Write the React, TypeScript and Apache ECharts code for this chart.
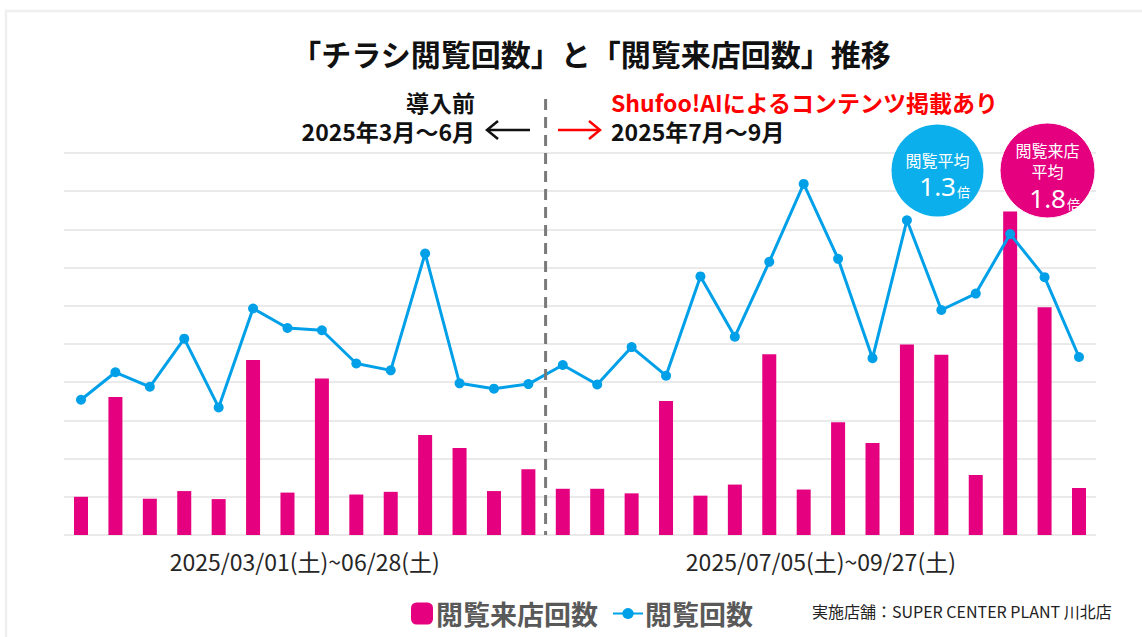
import React, { useEffect, useRef } from "react";
import * as echarts from "echarts";

// 30 periods: 14 before introduction, 16 after
const categories = [
  "P01", "P02", "P03", "P04", "P05", "P06", "P07", "P08", "P09", "P10",
  "P11", "P12", "P13", "P14", "P15", "P16", "P17", "P18", "P19", "P20",
  "P21", "P22", "P23", "P24", "P25", "P26", "P27", "P28", "P29", "P30",
];
// 閲覧来店回数 (bars)
const storeVisits = [
  10.0, 36.1, 9.5, 11.5, 9.4, 45.8, 11.1, 41.0, 10.6, 11.3, 26.2, 22.8, 11.5, 17.2,
  12.1, 12.1, 10.9, 35.1, 10.3, 13.2, 47.3, 11.9, 29.5, 24.1, 49.9, 47.2, 15.7, 84.7, 59.6, 12.3,
];
// 閲覧回数 (line)
const flyerViews = [
  35.4, 42.6, 38.8, 51.4, 33.4, 59.3, 54.2, 53.6, 44.9, 43.1, 73.7, 39.7, 38.3, 39.5,
  44.5, 39.4, 49.2, 41.7, 67.7, 51.9, 71.5, 91.9, 72.3, 46.3, 82.4, 58.9, 63.2, 78.8, 67.5, 46.6,
];
const yMin = 0;
const yMax = 100;
const yInterval = 10;
const beforeCount = 14;
const periodLabels = ["2025/03/01(土)~06/28(土)", "2025/07/05(土)~09/27(土)"];
const seriesNames = ["閲覧来店回数", "閲覧回数"];
const viewRatio = "1.3";
const visitRatio = "1.8";

const FONT = '"Noto Sans CJK JP", "Noto Sans", sans-serif';
const NUM_FONT = '"Noto Sans", "Noto Sans CJK JP", sans-serif';
const MAGENTA = "#E4007F";
const BLUE = "#00A0E9";
const BUBBLE_BLUE = "#0AAFEB";

function txt(x: number, y: number, text: string, font: string, fill: string, align: string, z = 5, lineHeight?: number) {
  return {
    type: "text",
    x,
    y,
    z,
    style: { text, font, fill, textAlign: align, textVerticalAlign: "middle", lineHeight },
  };
}

export default function App() {
  const ref = useRef<HTMLDivElement>(null);
  useEffect(() => {
    const chart = echarts.init(ref.current!, null, { renderer: "svg" });
    chart.setOption({
      animation: false,
      backgroundColor: "#ffffff",
      textStyle: { fontFamily: FONT },
      grid: { left: 63.8, right: 45.8, top: 153, bottom: 102 },
      xAxis: {
        type: "category",
        data: categories,
        axisLine: { show: false },
        axisTick: { show: false },
        axisLabel: { show: false },
      },
      yAxis: {
        type: "value",
        min: yMin,
        max: yMax,
        interval: yInterval,
        axisLabel: { show: false },
        axisLine: { show: false },
        axisTick: { show: false },
        splitLine: { lineStyle: { color: "#e3e3e3", width: 1.6 } },
      },
      legend: [
        {
          data: [seriesNames[0]],
          left: 406,
          top: 595,
          itemWidth: 22,
          itemHeight: 22,
          textStyle: { fontFamily: FONT, fontSize: 27, fontWeight: "bold", color: "#595959", padding: [0, 0, 0, -2] },
        },
        {
          data: [seriesNames[1]],
          left: 607,
          top: 595,
          itemWidth: 30,
          itemHeight: 14,
          textStyle: { fontFamily: FONT, fontSize: 27, fontWeight: "bold", color: "#595959", padding: [0, 0, 0, -3] },
        },
      ],
      series: [
        {
          name: seriesNames[0],
          type: "bar",
          data: storeVisits,
          barWidth: 14,
          itemStyle: { color: MAGENTA },
          z: 2,
        },
        {
          name: seriesNames[1],
          type: "line",
          data: flyerViews,
          symbol: "circle",
          symbolSize: 10,
          itemStyle: { color: BLUE },
          lineStyle: { color: BLUE, width: 3 },
          z: 3,
        },
      ],
    });

    const px = (i: number) => chart.convertToPixel({ xAxisIndex: 0 }, i) as number;
    const yBottom = chart.convertToPixel({ yAxisIndex: 0 }, yMin) as number;
    const sepX = (px(beforeCount - 1) + px(beforeCount)) / 2;
    const leftMid = (px(0) + px(beforeCount - 1)) / 2;
    const rightMid = (px(beforeCount) + px(categories.length - 1)) / 2;

    const annFont = `bold 23px ${FONT}`;

    chart.setOption({
      graphic: [
        {
          type: "rect",
          shape: { x: 6, y: 11, width: 1300, height: 800 },
          style: { fill: "none", stroke: "#efefef", lineWidth: 2.5 },
          silent: true,
        },
        txt(591, 53, "「チラシ閲覧回数」と「閲覧来店回数」推移", `bold 30px ${FONT}`, "#111", "center", 5, 32),
        {
          type: "line",
          shape: { x1: sepX, y1: 99, x2: sepX, y2: yBottom },
          style: { stroke: "#7a7a7a", lineWidth: 3, lineDash: [11, 7] },
          z: 10,
        },
        txt(475, 116.5, "導入前\n2025年3月～6月", annFont, "#111", "right", 5, 29),
        {
          type: "line",
          shape: { x1: 487, y1: 130, x2: 530, y2: 130 },
          style: { stroke: "#111", lineWidth: 2.5 },
        },
        {
          type: "polyline",
          shape: { points: [[498, 121], [487, 130], [498, 139]] },
          style: { stroke: "#111", lineWidth: 2.5, fill: "none" },
        },
        {
          type: "line",
          shape: { x1: 558, y1: 130, x2: 600, y2: 130 },
          style: { stroke: "#ff0000", lineWidth: 2.5 },
        },
        {
          type: "polyline",
          shape: { points: [[589, 121], [600, 130], [589, 139]] },
          style: { stroke: "#ff0000", lineWidth: 2.5, fill: "none" },
        },
        txt(611, 102, "Shufoo!AIによるコンテンツ掲載あり", annFont, "#ff0000", "left", 5, 24),
        txt(611, 131, "2025年7月～9月", annFont, "#111", "left", 5, 24),
        {
          type: "circle",
          shape: { cx: 937.5, cy: 170.5, r: 46 },
          style: { fill: BUBBLE_BLUE },
          z: 20,
        },
        txt(937.5, 160, "閲覧平均", `16px ${FONT}`, "#fff", "center", 21, 18),
        txt(956, 186, viewRatio, `26px ${NUM_FONT}`, "#fff", "right", 21, 26),
        txt(957, 191, "倍", `13px ${FONT}`, "#fff", "left", 21, 14),
        {
          type: "circle",
          shape: { cx: 1047.5, cy: 170.5, r: 47.5 },
          style: { fill: MAGENTA, stroke: "#ffffff", lineWidth: 1 },
          z: 20,
        },
        txt(1047.5, 160.5, "閲覧来店\n平均", `16px ${FONT}`, "#fff", "center", 21, 21),
        txt(1066, 198, visitRatio, `26px ${NUM_FONT}`, "#fff", "right", 21, 24),
        txt(1067, 203, "倍", `13px ${FONT}`, "#fff", "left", 21, 14),
        txt(leftMid, 561, periodLabels[0], `23px ${FONT}`, "#262626", "center", 5, 24),
        txt(rightMid, 561, periodLabels[1], `23px ${FONT}`, "#262626", "center", 5, 24),
        txt(812, 611, "実施店舗：SUPER CENTER PLANT 川北店", `16px ${FONT}`, "#222", "left", 5, 18),
      ],
    });
    return () => chart.dispose();
  }, []);
  return (
    <div
      ref={ref}
      style={{ position: "fixed", left: 0, top: 0, width: 1142, height: 637, background: "#fff" }}
    />
  );
}
